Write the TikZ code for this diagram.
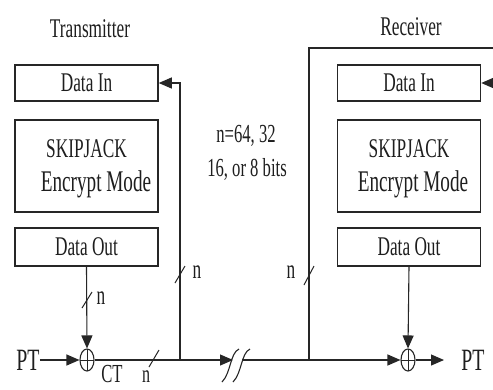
\documentclass[tikz,border=0pt]{standalone}
\usepackage{fontspec}
\setmainfont{Liberation Serif}[FakeStretch=0.64]
\usetikzlibrary{arrows.meta,shapes.geometric}
\newcommand\fsz[1]{\fontsize{#1}{#1}\selectfont}
\definecolor{lc}{HTML}{262626}
\definecolor{tc}{HTML}{1e1e1e}
\begin{document}
\begin{tikzpicture}[x=1pt,y=-1pt,
  ln/.style={draw=lc, line width=1.1pt},
  box/.style={draw=lc, line width=1.5pt, minimum width=143pt, inner sep=0pt, font=\fsz{27}, text=tc},
  arr/.style={ln, -{Triangle[length=13pt,width=11pt]}},
  xor/.style={ellipse, draw=lc, line width=1.1pt, minimum width=14pt, minimum height=22pt, inner sep=0pt,
    path picture={\draw[lc,line width=0.9pt] (path picture bounding box.north) -- (path picture bounding box.south)
      (path picture bounding box.west) -- (path picture bounding box.east);}},
  lbl/.style={inner sep=0pt, text=tc},
  tick/.style={ln, line width=1pt},
]
\useasboundingbox (0,0) rectangle (493,389);
\fill[white] (0,0) rectangle (493,389);

% titles
\node[lbl, font=\fsz{27}, anchor=base] (ttx) at (90,37) {Transmitter};
\node[lbl, font=\fsz{27}, anchor=base] (trx) at (411,35) {Receiver};

% transmitter boxes
\node[box, minimum height=36pt] (txin) at (86.5,83) {Data In};
\node[box, minimum height=92pt] (txsk) at (86.5,166) {};
\node[lbl, font=\fsz{27}, anchor=base] (txsk1) at (86.5,157) {SKIPJACK};
\node[lbl, font=\fsz{30}, anchor=base] (txsk2) at (96,191) {Encrypt Mode};
\node[box, minimum height=38pt] (txout) at (86.5,247) {Data Out};

% receiver boxes
\node[box, minimum height=36pt] (rxin) at (409,83) {Data In};
\node[box, minimum height=92pt] (rxsk) at (409,166) {};
\node[lbl, font=\fsz{27}, anchor=base] (rxsk1) at (409,157) {SKIPJACK};
\node[lbl, font=\fsz{30}, anchor=base] (rxsk2) at (413,191) {Encrypt Mode};
\node[box, minimum height=38pt] (rxout) at (409,247) {Data Out};

% note
\node[lbl, font=\fsz{26}, anchor=base] (note1) at (246,142) {n=64, 32};
\node[lbl, font=\fsz{26}, anchor=base] (note2) at (247,176) {16, or 8 bits};

% xor gates
\node[xor] (xtx) at (87,360) {};
\node[xor] (xrx) at (408,360) {};

% PT / CT labels
\node[lbl, font=\fsz{31}] (pt1) at (28,360) {PT};
\node[lbl, font=\fsz{31}] (pt2) at (473,360) {PT};
\node[lbl, font=\fsz{26}, anchor=south] (ct) at (112,382.5) {CT};

% coordinates
\coordinate (j1) at (180,360);
\coordinate (brkA) at (233,360);
\coordinate (brkB) at (242,360);
\coordinate (j2) at (309,360);
\coordinate (top) at (309,48);
\coordinate (edge1) at (493,48);
\coordinate (edge2) at (493,83);
\coordinate (ptend) at (444,360);

% connectors transmitter
\draw[arr] (pt1.east) -- (xtx.west);
\draw[arr] (txout.south) -- (xtx.north);
\draw[arr] (xtx.east) -- (brkA);
\draw[arr] (j1) |- (txin.east);

% break symbol
\draw[ln] (239,349) .. controls (230,353) and (231,373) .. (222,382);
\draw[ln] (250,349) .. controls (241,353) and (242,373) .. (233,382);

% connectors receiver
\draw[arr] (brkB) -- (xrx.west);
\draw[ln] (j2) -- (top) -- (edge1);
\draw[arr] (edge2) -- (rxin.east);
\draw[arr] (rxout.south) -- (xrx.north);
\draw[arr] (xrx.east) -- (ptend);

% bus width ticks
\draw[tick] (82,308) -- (92,292);
\node[lbl, font=\fsz{27}] (n1) at (101,298) {n};
\draw[tick] (175,283) -- (185,266);
\node[lbl, font=\fsz{27}] (n2) at (197,272) {n};
\draw[tick] (149,367) -- (159,350);
\node[lbl, font=\fsz{25}, anchor=south] (n3) at (146,383) {n};
\draw[tick] (304,285) -- (314,266);
\node[lbl, font=\fsz{27}] (n4) at (291,272) {n};
\end{tikzpicture}
\end{document}
